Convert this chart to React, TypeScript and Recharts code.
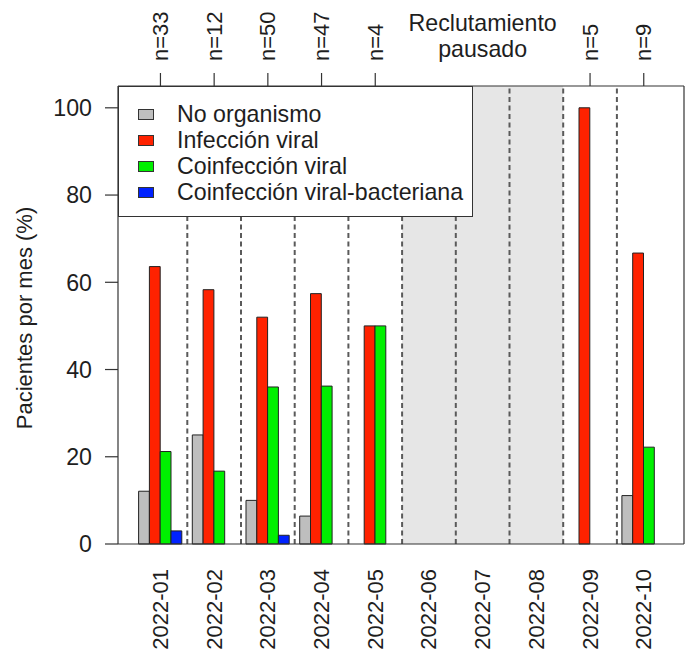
import React from 'react';
import { BarChart, Bar, XAxis, YAxis, ReferenceArea, ReferenceLine, Legend } from 'recharts';

const months = ['2022-01', '2022-02', '2022-03', '2022-04', '2022-05', '2022-06', '2022-07', '2022-08', '2022-09', '2022-10'];
const noOrganismo = [12.1, 25.0, 10.0, 6.4, 0, null, null, null, 0, 11.1];
const infeccionViral = [63.6, 58.3, 52.0, 57.4, 50.0, null, null, null, 100, 66.7];
const coinfeccionViral = [21.2, 16.7, 36.0, 36.2, 50.0, null, null, null, 0, 22.2];
const coinfeccionBacteriana = [3.0, 0, 2.0, 0, 0, null, null, null, 0, 0];
const patientCounts = [33, 12, 50, 47, 4, null, null, null, 5, 9];
const pausedLabel = ['Reclutamiento', 'pausado'];
const pausedStart = '2022-06';
const pausedEnd = '2022-08';
const pausedLabelMonth = '2022-07';
const yTicks = [0, 20, 40, 60, 80, 100];
const seriesNames = ['No organismo', 'Infección viral', 'Coinfección viral', 'Coinfección viral-bacteriana'];
const seriesKeys = ['s0', 's1', 's2', 's3'];
const seriesColors = ['#bebebe', '#ff2200', '#00f000', '#0022ff'];
const yTitle = 'Pacientes por mes (%)';

const seriesValues = [noOrganismo, infeccionViral, coinfeccionViral, coinfeccionBacteriana];
const data = months.map((m, i) => {
  const row: any = { month: m };
  seriesKeys.forEach((k, j) => { row[k] = seriesValues[j][i]; });
  return row;
});

const FONT = '"Liberation Sans", Arial, sans-serif';
const TXT = '#1e1e1e';
const FS = 22;
const FSH = 23.2;

function BottomTick(props: any) {
  const { x, payload } = props;
  return (
    <text
      transform={`translate(${x},569) rotate(-90)`}
      textAnchor="end"
      dominantBaseline="central"
      fontSize={FS}
      fontFamily={FONT}
      fill={TXT}
    >
      {payload.value}
    </text>
  );
}

function TopTick(props: any) {
  const { x, payload, index } = props;
  if (payload.value === pausedLabelMonth) {
    return (
      <text textAnchor="middle" fontSize={FSH} fontFamily={FONT} fill={TXT}>
        <tspan x={x} y={31}>{pausedLabel[0]}</tspan>
        <tspan x={x} y={57}>{pausedLabel[1]}</tspan>
      </text>
    );
  }
  const n = patientCounts[index];
  if (n == null) return <g />;
  return (
    <g>
      <line x1={x} x2={x} y1={73} y2={86} stroke="#333" strokeWidth={1.2} />
      <text
        transform={`translate(${x},61) rotate(-90)`}
        textAnchor="start"
        dominantBaseline="central"
        fontSize={FS}
        fontFamily={FONT}
        fill={TXT}
      >
        {`n=${n}`}
      </text>
    </g>
  );
}

function YTitle(props: any) {
  const vb = props.viewBox || {};
  const cy = (vb.y ?? 86) + (vb.height ?? 458) / 2;
  return (
    <text
      transform={`translate(24,${cy + 3}) rotate(-90)`}
      textAnchor="middle"
      dominantBaseline="central"
      fontSize={FS}
      fontFamily={FONT}
      fill={TXT}
    >
      {yTitle}
    </text>
  );
}

function LegendBox() {
  return (
    <div
      style={{
        boxSizing: 'border-box',
        width: 355,
        height: 131,
        border: '1px solid #333',
        background: '#fff',
        padding: '14px 0 0 19px',
        fontFamily: FONT,
        fontSize: FSH,
        color: TXT,
      }}
    >
      {seriesNames.map((n, i) => (
        <div key={n} style={{ display: 'flex', alignItems: 'center', height: 26.2, whiteSpace: 'nowrap' }}>
          <span
            style={{
              display: 'inline-block',
              width: 16,
              height: 11,
              background: seriesColors[i],
              border: '1px solid #333',
              boxSizing: 'border-box',
              marginRight: 23,
              flex: 'none',
            }}
          />
          <span>{n}</span>
        </div>
      ))}
    </div>
  );
}

const pad = { left: 15.6, right: 13.4 };

export default function App() {
  return (
    <div style={{ position: 'absolute', left: 0, top: 0, background: '#fff' }}>
      <BarChart
        width={686}
        height={654}
        data={data}
        margin={{ top: 0, right: 1, bottom: 0, left: 38 }}
        barGap={0}
        barCategoryGap="10%"
      >
        <ReferenceArea
          x1={pausedStart}
          x2={pausedEnd}
          y1={0}
          y2={105}
          fill="#e6e6e6"
          fillOpacity={1}
          stroke="none"
        />
        {months.slice(1).map((m) => (
          <ReferenceLine
            key={m}
            x={m}
            position="start"
            stroke="#5a5a5a"
            strokeWidth={2}
            strokeDasharray="5 3.5"
          />
        ))}
        <XAxis
          dataKey="month"
          height={110}
          interval={0}
          padding={pad}
          axisLine={{ stroke: '#333', strokeWidth: 1.2 }}
          tickLine={false}
          tick={(p: any) => <BottomTick {...p} />}
        />
        <XAxis
          xAxisId="top"
          orientation="top"
          dataKey="month"
          height={86}
          interval={0}
          padding={pad}
          axisLine={{ stroke: '#333', strokeWidth: 1.2 }}
          tickLine={false}
          tick={(p: any) => <TopTick {...p} />}
        />
        <YAxis
          width={80}
          domain={[0, 105]}
          ticks={yTicks}
          interval={0}
          tickSize={13}
          tickMargin={13}
          axisLine={{ stroke: '#333', strokeWidth: 1.2 }}
          tickLine={{ stroke: '#333', strokeWidth: 1.2 }}
          tick={{ fontSize: FSH, fontFamily: FONT, fill: TXT }}
          label={<YTitle />}
        />
        <YAxis
          yAxisId="right"
          orientation="right"
          width={1}
          domain={[0, 105]}
          tick={false}
          tickLine={false}
          axisLine={{ stroke: '#333', strokeWidth: 1.2 }}
        />
        {seriesKeys.map((k, i) => (
          <Bar
            key={k}
            dataKey={k}
            name={seriesNames[i]}
            fill={seriesColors[i]}
            stroke="#222"
            strokeWidth={1}
            barSize={10.8}
            isAnimationActive={false}
          />
        ))}
        <Legend
          layout="horizontal"
          verticalAlign="middle"
          align="center"
          content={() => <LegendBox />}
          wrapperStyle={{ left: 118, top: 86, width: 355, height: 131 }}
        />
      </BarChart>
    </div>
  );
}
